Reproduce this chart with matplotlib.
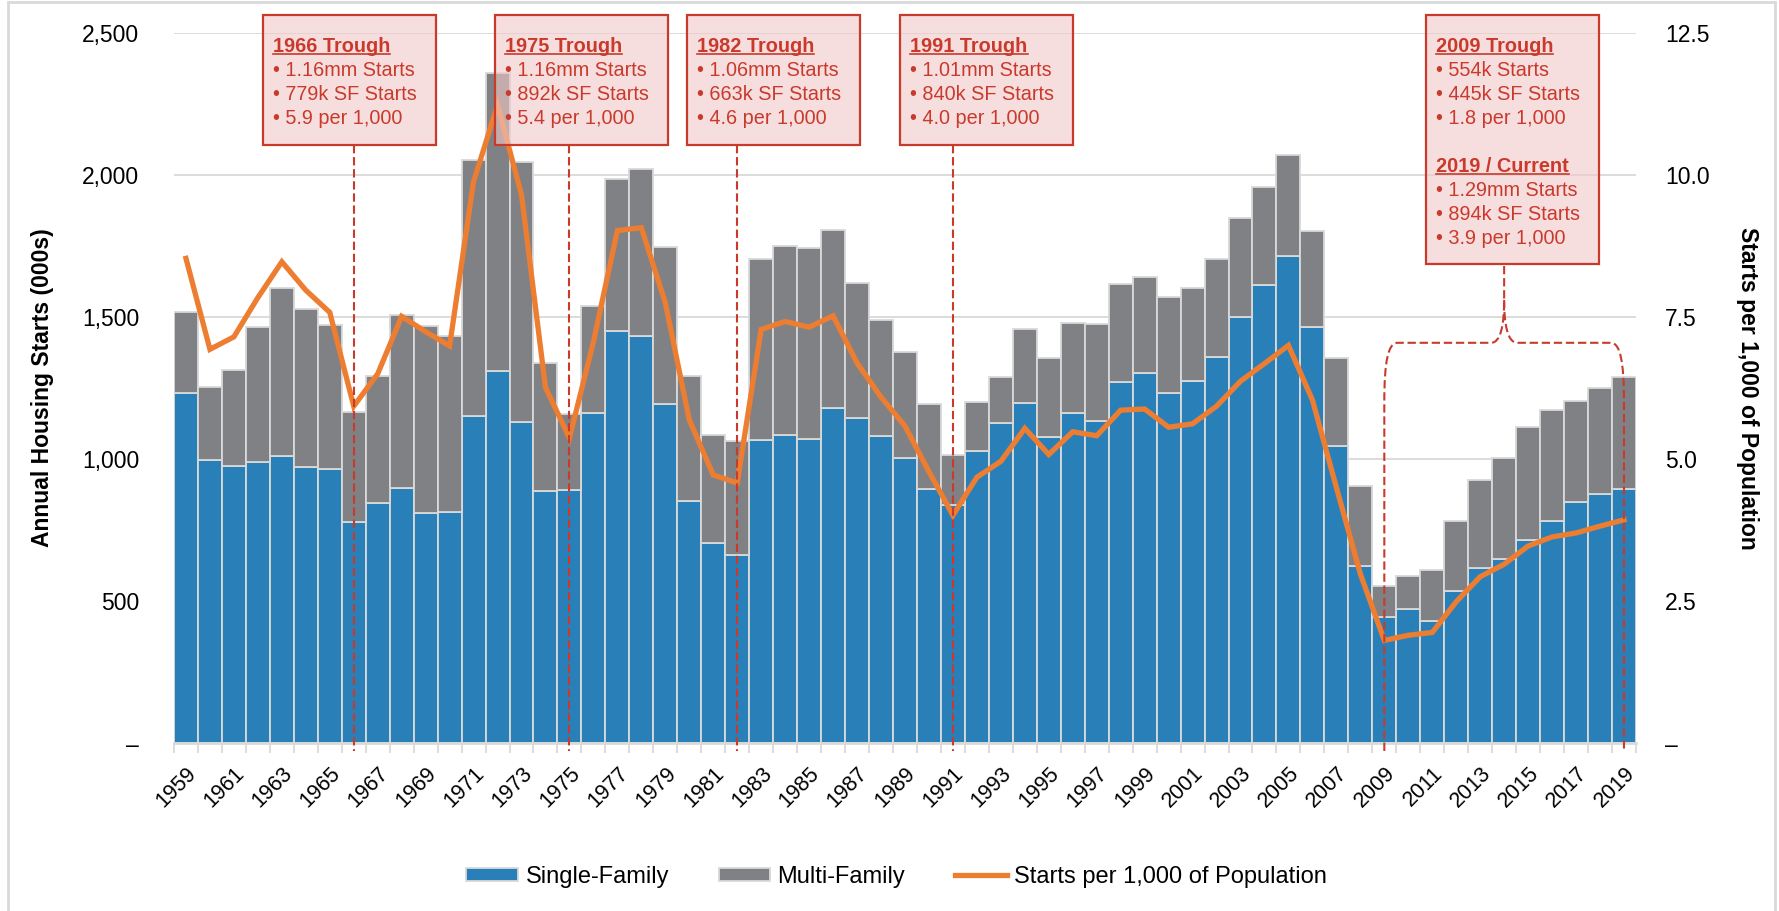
import numpy as np
import matplotlib
matplotlib.use("Agg")
import matplotlib.pyplot as plt
from matplotlib.patches import Rectangle, PathPatch
from matplotlib.path import Path
from matplotlib.lines import Line2D

plt.rcParams['font.family'] = ['Liberation Sans', 'DejaVu Sans']

# Daten
years = np.arange(1959, 2020)
total_starts = [1517, 1252, 1313, 1463, 1603, 1529, 1473, 1165, 1292, 1508,
                1467, 1434, 2052, 2357, 2045, 1338, 1160, 1538, 1987, 2020,
                1745, 1292, 1084, 1062, 1703, 1750, 1742, 1805, 1621, 1488,
                1376, 1193, 1014, 1200, 1288, 1457, 1354, 1477, 1474, 1617,
                1641, 1569, 1603, 1705, 1848, 1956, 2068, 1801, 1355, 906,
                554, 587, 609, 781, 925, 1003, 1112, 1174, 1203, 1250, 1290]
sf_starts = [1234, 995, 974, 991, 1012, 971, 964, 779, 844, 899,
             811, 813, 1151, 1309, 1132, 888, 892, 1162, 1451, 1433,
             1194, 852, 705, 663, 1068, 1084, 1072, 1179, 1146, 1081,
             1003, 895, 840, 1030, 1126, 1198, 1076, 1161, 1134, 1271,
             1302, 1231, 1273, 1359, 1499, 1611, 1716, 1465, 1046, 622,
             445, 471, 431, 535, 618, 648, 715, 782, 849, 876, 894]
per_1000 = [8.53, 6.93, 7.15, 7.84, 8.47, 7.97, 7.58, 5.93, 6.50, 7.51,
            7.24, 6.99, 9.88, 11.23, 9.65, 6.26, 5.37, 7.06, 9.02, 9.07,
            7.75, 5.69, 4.72, 4.58, 7.28, 7.42, 7.32, 7.52, 6.69, 6.09,
            5.58, 4.78, 4.01, 4.68, 4.96, 5.54, 5.08, 5.48, 5.41, 5.86,
            5.88, 5.56, 5.62, 5.93, 6.37, 6.68, 7.00, 6.04, 4.50, 2.98,
            1.81, 1.90, 1.95, 2.49, 2.93, 3.15, 3.47, 3.63, 3.70, 3.82, 3.93]
mf_starts = np.array(total_starts) - np.array(sf_starts)

# Tiefpunkte
trough_years = [1966, 1975, 1982, 1991]
trough_texts = [
    ["1966 Trough", "• 1.16mm Starts", "• 779k SF Starts", "• 5.9 per 1,000"],
    ["1975 Trough", "• 1.16mm Starts", "• 892k SF Starts", "• 5.4 per 1,000"],
    ["1982 Trough", "• 1.06mm Starts", "• 663k SF Starts", "• 4.6 per 1,000"],
    ["1991 Trough", "• 1.01mm Starts", "• 840k SF Starts", "• 4.0 per 1,000"],
]
box_left = [1962.2, 1971.9, 1979.9, 1988.8]
recent_texts = [
    ["2009 Trough", "• 554k Starts", "• 445k SF Starts", "• 1.8 per 1,000"],
    ["2019 / Current", "• 1.29mm Starts", "• 894k SF Starts", "• 3.9 per 1,000"],
]

blue = '#2980B9'
grey = '#808185'
orange = '#ED7D31'
red = '#C93A2C'
light = '#D9D9D9'

fig = plt.figure(figsize=(17.79, 9.11), dpi=100)
ax = fig.add_axes([0.0978, 0.1841, 0.8218, 0.78])
ax2 = ax.twinx()

ax.bar(years, sf_starts, width=1.0, color=blue, edgecolor=light, linewidth=1.3,
       label='Single-Family', zorder=2)
ax.bar(years, mf_starts, bottom=sf_starts, width=1.0, color=grey, edgecolor=light,
       linewidth=1.3, label='Multi-Family', zorder=2)
ax2.plot(years, per_1000, color=orange, lw=3.8, solid_joinstyle='miter',
         label='Starts per 1,000 of Population', zorder=3)

ax.set_xlim(1958.5, 2019.5)
ax.set_ylim(0, 2500)
ax2.set_ylim(0, 12.5)

ax.set_yticks(np.arange(0, 2501, 500))
ax.set_yticklabels(['–'] + [f'{v:,}' for v in range(500, 2501, 500)])
ax2.set_yticks(np.arange(0, 12.6, 2.5))
ax2.set_yticklabels(['–'] + [f'{v:.1f}' for v in np.arange(2.5, 12.6, 2.5)])
ax.tick_params(axis='y', length=0, pad=25, labelsize=16.5)
ax2.tick_params(axis='y', length=0, pad=21, labelsize=16.5)

ax.set_xticks(years[::2])
ax.set_xticklabels([str(y) for y in years[::2]], rotation=45, ha='right',
                   rotation_mode='anchor', fontsize=15.5)
ax.set_xticks(np.arange(1958.5, 2020, 1), minor=True)
ax.tick_params(axis='x', which='major', length=0, pad=14)
ax.tick_params(axis='x', which='minor', length=7, color=light, width=1.3)

ax.yaxis.grid(True, color=light, lw=1.3)
ax.set_axisbelow(True)
for s in ['top', 'left', 'right']:
    ax.spines[s].set_visible(False)
    ax2.spines[s].set_visible(False)
ax2.spines['bottom'].set_visible(False)
ax.spines['bottom'].set_color(light)
ax.spines['bottom'].set_linewidth(2)

ax.set_ylabel('Annual Housing Starts (000s)', fontsize=16.5, fontweight='bold')
ax.yaxis.set_label_coords(-0.082, 0.5)
ax2.set_ylabel('Starts per 1,000 of Population', fontsize=16.5, fontweight='bold',
               rotation=270, va='center')
ax2.yaxis.set_label_coords(1.076, 0.5)

# Kästen und gestrichelte Linien
box_face = (0.95, 0.79, 0.79, 0.6)
dash = (0, (4, 1.8))
box_w = 7.22
top, bottom = 2561, 2104
baselines = [2433, 2348, 2264, 2180]
titles = []

for yr, left, lines in zip(trough_years, box_left, trough_texts):
    ax2.plot([yr, yr], [bottom, -27], color=red, lw=1.5, linestyle=dash,
             transform=ax.transData, clip_on=False, zorder=5)
    ax2.add_patch(Rectangle((left, bottom), box_w, top - bottom, facecolor=box_face,
                            edgecolor=red, lw=1.6, transform=ax.transData,
                            clip_on=False, zorder=6))
    for i, (txt, yb) in enumerate(zip(lines, baselines)):
        t = ax2.text(left + 0.42, yb, txt, color=red, fontsize=14.3, va='baseline',
                     fontweight='bold' if i == 0 else 'normal',
                     transform=ax.transData, zorder=7, clip_on=False)
        if i == 0:
            titles.append((t, left + 0.42, yb))

# 2009 / 2019 Kasten
left = 2010.73
recent_bottom = 1687
ax2.add_patch(Rectangle((left, recent_bottom), box_w, top - recent_bottom,
                        facecolor=box_face, edgecolor=red, lw=1.6,
                        transform=ax.transData, clip_on=False, zorder=6))
recent_baselines = [[2433, 2348, 2264, 2180], [2011, 1926, 1841, 1757]]
for lines, bls in zip(recent_texts, recent_baselines):
    for i, (txt, yb) in enumerate(zip(lines, bls)):
        t = ax2.text(left + 0.42, yb, txt, color=red, fontsize=14.3, va='baseline',
                     fontweight='bold' if i == 0 else 'normal',
                     transform=ax.transData, zorder=7, clip_on=False)
        if i == 0:
            titles.append((t, left + 0.42, yb))

# Klammer 2009-2019
h = 1409
verts = [(2009, -27), (2009, 1200),
         (2009, 1340), (2009.15, h), (2009.55, h),
         (2013.45, h),
         (2013.85, h), (2014, 1470), (2014, 1560),
         (2014, recent_bottom),
         (2014, 1560),
         (2014, 1470), (2014.15, h), (2014.55, h),
         (2018.45, h),
         (2018.85, h), (2019, 1340), (2019, 1200),
         (2019, -27)]
codes = [Path.MOVETO, Path.LINETO,
         Path.CURVE4, Path.CURVE4, Path.CURVE4,
         Path.LINETO,
         Path.CURVE4, Path.CURVE4, Path.CURVE4,
         Path.LINETO,
         Path.MOVETO,
         Path.CURVE4, Path.CURVE4, Path.CURVE4,
         Path.LINETO,
         Path.CURVE4, Path.CURVE4, Path.CURVE4,
         Path.LINETO]
ax2.add_patch(PathPatch(Path(verts, codes), fill=False, edgecolor=red, lw=1.5,
                        linestyle=dash, transform=ax.transData, clip_on=False,
                        zorder=5))

ax2.set_xlim(1958.5, 2019.5)
ax2.set_ylim(0, 12.5)

# Legende
handles = [Rectangle((0, 0), 1, 1, facecolor=blue, edgecolor=light, lw=1.3),
           Rectangle((0, 0), 1, 1, facecolor=grey, edgecolor=light, lw=1.3),
           Line2D([0], [0], color=orange, lw=3.8)]
fig.legend(handles, ['Single-Family', 'Multi-Family', 'Starts per 1,000 of Population'],
           loc='center', bbox_to_anchor=(0.504, 1 - 877 / 911), ncol=3, frameon=False,
           fontsize=17, handlelength=2.2, handleheight=0.5, handletextpad=0.3,
           columnspacing=2.1)

# Rahmen
fig.add_artist(Rectangle((8 / 1779, -0.01), 1767 / 1779, 1.0 - 1.5 / 911 + 0.01,
                         fill=False, edgecolor=light, lw=2, transform=fig.transFigure))

# Unterstreichung der Titel
fig.canvas.draw()
renderer = fig.canvas.get_renderer()
inv = fig.transFigure.inverted()
for t, x, yb in titles:
    bb = t.get_window_extent(renderer)
    ybase = ax.transData.transform((x, yb))[1] - 2
    p0 = inv.transform((bb.x0, ybase))
    p1 = inv.transform((bb.x1, ybase))
    fig.add_artist(Line2D([p0[0], p1[0]], [p0[1], p1[1]], color=red, lw=1.2,
                          transform=fig.transFigure))

fig.savefig('out.png', dpi=100)
